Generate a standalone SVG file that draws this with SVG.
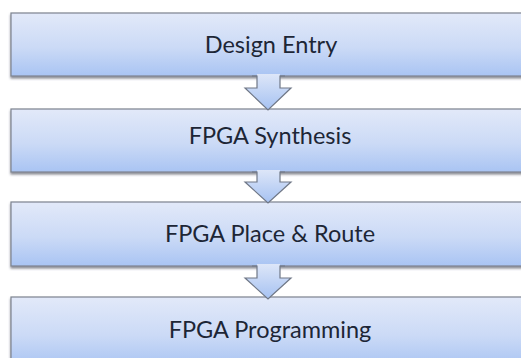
<svg xmlns="http://www.w3.org/2000/svg" width="521" height="358" viewBox="0 0 521 358">
  <defs>
    <linearGradient id="boxFill" x1="0" y1="0" x2="0" y2="1">
      <stop offset="0" stop-color="#e2e9f9"/>
      <stop offset="0.55" stop-color="#cbdaf6"/>
      <stop offset="1" stop-color="#a9c4f3"/>
    </linearGradient>
    <linearGradient id="arrowFill" x1="0" y1="0" x2="0" y2="1">
      <stop offset="0" stop-color="#dde6f8"/>
      <stop offset="1" stop-color="#a6c2f2"/>
    </linearGradient>
    <filter id="shadow" x="-5%" y="-20%" width="110%" height="150%">
      <feDropShadow dx="0" dy="2" stdDeviation="1.2" flood-color="#3a4150" flood-opacity="0.6"/>
    </filter>
  </defs>
  <style>
    .box { fill: url(#boxFill); stroke: #7d838f; stroke-width: 1.2; filter: url(#shadow); }
    .label { font-family: Lato, "Open Sans", "Liberation Sans", sans-serif; font-size: 23.5px; fill: #1d2636; text-anchor: middle; }
    .arrow-body { fill: url(#arrowFill); stroke: none; }
    .arrow-edge { fill: none; stroke: #6f7786; stroke-width: 1.2; stroke-linejoin: miter; }
  </style>
  <rect width="521" height="358" fill="#ffffff"/>

  <g id="design-entry">
    <rect class="box" x="11" y="13" width="520" height="63"/>
    <text class="label" x="271" y="53">Design Entry</text>
  </g>
  <g id="fpga-synthesis">
    <rect class="box" x="11" y="109" width="520" height="63"/>
    <text class="label" x="270" y="143.5">FPGA Synthesis</text>
  </g>
  <g id="fpga-place-route">
    <rect class="box" x="11" y="202" width="520" height="64"/>
    <text class="label" x="270" y="242">FPGA Place &amp; Route</text>
  </g>
  <g id="fpga-programming">
    <rect class="box" x="11" y="297" width="520" height="70"/>
    <text class="label" x="270" y="338">FPGA Programming</text>
  </g>

  <g id="connectors">
    <!-- block arrow 1 -->
    <path class="arrow-body" d="M257 74 H280 V88 H291 L268 110 L245 88 H257 Z"/>
    <path class="arrow-edge" d="M252 76 H257 V88 H245 L268 110 L291 88 H280 V76 H285"/>
    <!-- block arrow 2 -->
    <path class="arrow-body" d="M257 170 H280 V182 H291 L268 203 L245 182 H257 Z"/>
    <path class="arrow-edge" d="M252 172 H257 V182 H245 L268 203 L291 182 H280 V172 H285"/>
    <!-- block arrow 3 -->
    <path class="arrow-body" d="M257 264 H280 V278 H291 L268 299 L245 278 H257 Z"/>
    <path class="arrow-edge" d="M252 266 H257 V278 H245 L268 299 L291 278 H280 V266 H285"/>
  </g>
</svg>
